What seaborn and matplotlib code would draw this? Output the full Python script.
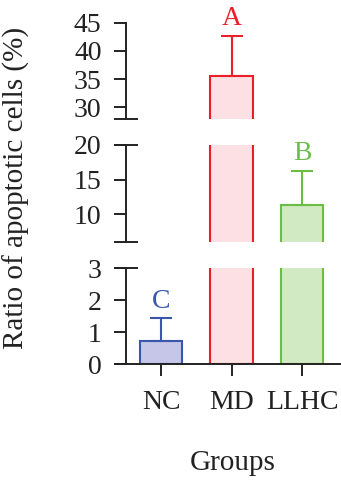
import matplotlib
matplotlib.use("Agg")
import matplotlib.pyplot as plt
import seaborn as sns
import pandas as pd

# Apoptosis ratio per group (mean and upper SD)
groups = ["NC", "MD", "LLHC"]
means = [0.74, 35.5, 11.4]
errors = [0.70, 7.2, 4.9]
letters = ["C", "A", "B"]
edge_colors = ["#3b56ad", "#e8202a", "#6bbd45"]
fill_colors = ["#c6c6e8", "#fde0e4", "#d2eac4"]

# Broken y-axis segments: (low, high, ticks), top to bottom
seg_limits = [(28, 45), (6, 20), (0, 3)]
seg_ticks = [[30, 35, 40, 45], [10, 15, 20], [0, 1, 2, 3]]

sns.set_style("white")
plt.rcParams["font.family"] = ["Liberation Serif", "DejaVu Serif"]
plt.rcParams["font.size"] = 20

df = pd.DataFrame({"group": groups, "value": means})

W, H = 341, 483
fig = plt.figure(figsize=(W / 100, H / 100), dpi=100)

# pixel boxes (top, bottom) for each segment
boxes = [(22.7, 118.5), (145, 242), (268.3, 364.3)]
left_px, right_px = 126, 340

axes = []
for (top, bot), (lo, hi), ticks in zip(boxes, seg_limits, seg_ticks):
    ax = fig.add_axes([left_px / W, 1 - bot / H, (right_px - left_px) / W, (bot - top) / H])
    sns.barplot(data=df, x="group", y="value", hue="group", palette=fill_colors,
                saturation=1, width=0.6, ax=ax, legend=False, errorbar=None, linewidth=1.5)
    for patch, ec in zip(ax.patches, edge_colors):
        patch.set_edgecolor(ec)
        patch.set_linewidth(1.5)
    for i, (m, e, ec) in enumerate(zip(means, errors, edge_colors)):
        ax.errorbar(i, m, yerr=[[0], [e]], fmt="none", ecolor=ec,
                    elinewidth=1.5, capsize=8, capthick=1.5, zorder=3)
    ax.set_ylim(lo, hi)
    ax.set_xlim(-0.5, 2.54)
    ax.set_yticks(ticks)
    ax.set_xlabel("")
    ax.set_ylabel("")
    for s in ["top", "right", "bottom"]:
        ax.spines[s].set_visible(False)
    ax.spines["left"].set_linewidth(1.4)
    ax.spines["left"].set_color("#222222")
    ax.tick_params(axis="y", direction="out", length=8.6, width=1.4,
                   colors="#222222", labelcolor="#222222", labelsize=20, pad=9, left=True)
    ax.set_facecolor("none")
    axes.append(ax)

# break marks across the spine at segment ends
half = 12 / (right_px - left_px)
breaks = [[28], [6, 20], [3]]
for ax, ys in zip(axes, breaks):
    for y in ys:
        ax.plot([-half, half], [y, y], transform=ax.get_yaxis_transform(),
                color="#222222", lw=1.4, clip_on=False, solid_capstyle="butt")

bottom_ax = axes[2]
bottom_ax.spines["bottom"].set_visible(True)
bottom_ax.spines["bottom"].set_linewidth(1.4)
bottom_ax.spines["bottom"].set_color("#222222")
bottom_ax.plot([-half, 0], [0, 0], transform=bottom_ax.get_yaxis_transform(),
               color="#222222", lw=1.4, clip_on=False, solid_capstyle="butt")
bottom_ax.tick_params(axis="x", bottom=True, direction="out", length=8.6, width=1.4,
                      colors="#222222", labelsize=20, pad=10)
for ax in axes[:2]:
    ax.tick_params(axis="x", bottom=False, labelbottom=False)

# significance letters above error bars
seg_of = [2, 0, 1]
for i, (m, e, lab, ec) in enumerate(zip(means, errors, letters, edge_colors)):
    axes[seg_of[i]].annotate(lab, (i, m + e), xytext=(0, 3), textcoords="offset points",
                             ha="center", va="bottom", color=ec, fontsize=20,
                             annotation_clip=False)

fig.text(16 / W, 1 - 188 / H, "Ratio of apoptotic cells (%)", rotation=90,
         ha="center", va="center", fontsize=21, color="#222222")
fig.text(233 / W, 1 - 463 / H, "Groups", ha="center", va="center",
         fontsize=21, color="#222222")

fig.savefig("out.png", dpi=100)
